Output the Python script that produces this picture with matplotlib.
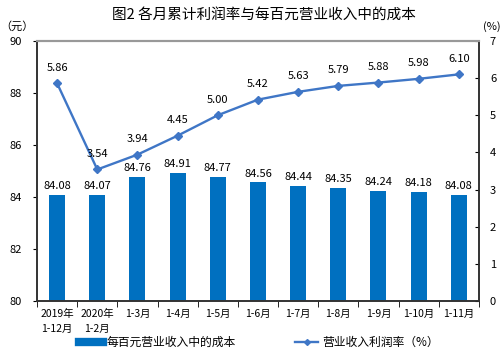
import matplotlib
matplotlib.use("Agg")
import matplotlib.pyplot as plt
from matplotlib.lines import Line2D
import numpy as np

plt.rcParams['font.family'] = ['Noto Sans CJK SC', 'DejaVu Sans']

categories = ["2019年\n1-12月", "2020年\n1-2月", "1-3月", "1-4月", "1-5月", "1-6月",
              "1-7月", "1-8月", "1-9月", "1-10月", "1-11月"]
cost = [84.08, 84.07, 84.76, 84.91, 84.77, 84.56, 84.44, 84.35, 84.24, 84.18, 84.08]
margin = [5.86, 3.54, 3.94, 4.45, 5.00, 5.42, 5.63, 5.79, 5.88, 5.98, 6.10]

bar_color = "#0070C0"
line_color = "#3F76C6"

fig = plt.figure(figsize=(5.03, 3.56), dpi=100)
ax = fig.add_axes([0.0736, 0.1545, 0.8784, 0.7305])
x = np.arange(len(categories))
ax.bar(x, cost, width=0.4, color=bar_color, zorder=2)
ax.set_ylim(80, 90)
ax.set_xlim(-0.5, len(categories) - 0.5)
ax.set_yticks(range(80, 91, 2))
ax.tick_params(axis='y', labelsize=8, length=3, direction='out', pad=8)
ax.set_xticks(x)
ax.set_xticklabels(categories, fontsize=7.5, linespacing=1.6)
ax.tick_params(axis='x', length=0, pad=6)
ax.set_xticks(np.arange(-0.5, len(categories), 1), minor=True)
ax.tick_params(axis='x', which='minor', length=4, direction='out')
for xi, v in zip(x, cost):
    ax.text(xi, v + 0.15, f"{v:.2f}", ha='center', va='bottom', fontsize=8)

ax2 = ax.twinx()
ax2.plot(x, margin, color=line_color, lw=1.7, marker='D', ms=4, zorder=3)
ax2.set_ylim(0, 7)
ax2.set_yticks(range(0, 8))
ax2.tick_params(axis='y', labelsize=8, length=3, direction='in', pad=8)
for xi, v in zip(x, margin):
    ax2.text(xi, v + 0.28, f"{v:.2f}", ha='center', va='bottom', fontsize=8)

for a in (ax, ax2):
    a.spines['top'].set_color('#999999')
    a.spines['top'].set_linewidth(1.5)
    for s in ('left', 'right', 'bottom'):
        a.spines[s].set_color('#333333')
        a.spines[s].set_linewidth(1.2)

fig.text(0.525, 0.958, "图2 各月累计利润率与每百元营业收入中的成本", ha='center', va='center', fontsize=10.5)
fig.text(0.034, 0.925, "（元）", ha='center', va='center', fontsize=8)
fig.text(0.996, 0.925, "(%)", ha='right', va='center', fontsize=8)

handles = [Line2D([0], [0], color=bar_color, lw=6),
           Line2D([0], [0], color=line_color, lw=1.7, marker='D', ms=3)]
fig.legend(handles, ["每百元营业收入中的成本", "营业收入利润率（%）"], loc='center',
           bbox_to_anchor=(0.515, 0.038), ncol=2, frameon=False, fontsize=8.5,
           handlelength=2.0, handletextpad=0.3, columnspacing=5)

fig.savefig("out.png", dpi=100)
